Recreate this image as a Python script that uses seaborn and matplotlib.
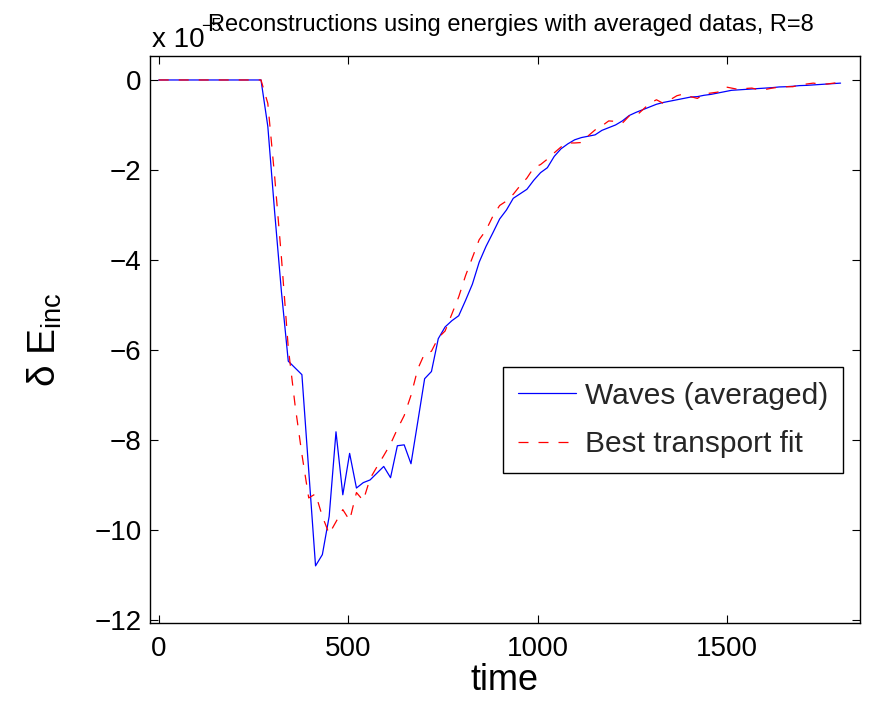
import numpy as np
import pandas as pd
import matplotlib
matplotlib.use("Agg")
import matplotlib.pyplot as plt
import seaborn as sns

# ---------------- data (values in units of 1e-5) ----------------
time = list(range(0, 1801, 18))

waves = [0, 0, 0, 0, 0, 0, 0, 0, 0, 0, 0, 0, 0, 0, 0, 0,
         -1.03, -2.93, -4.71, -6.25, -6.40, -6.55, -8.68, -10.80, -10.55, -9.70,
         -7.82, -9.22, -8.30, -9.07, -8.95, -8.89, -8.74, -8.59, -8.84, -8.13,
         -8.11, -8.53, -7.59, -6.64, -6.48, -5.75, -5.49, -5.35, -5.24, -4.90,
         -4.54, -4.05, -3.70, -3.40, -3.09, -2.89, -2.63, -2.53, -2.43, -2.23,
         -2.06, -1.95, -1.70, -1.53, -1.42, -1.33, -1.28, -1.25, -1.22, -1.12,
         -1.06, -1.00, -0.91, -0.79, -0.72, -0.66, -0.60, -0.54, -0.50, -0.47,
         -0.44, -0.41, -0.38, -0.37, -0.34, -0.32, -0.29, -0.26, -0.23, -0.22,
         -0.21, -0.20, -0.19, -0.18, -0.17, -0.155, -0.15, -0.14, -0.125, -0.12,
         -0.11, -0.10, -0.09, -0.08, -0.07]

transport = [0, 0, 0, 0, 0, 0, 0, 0, 0, 0, 0, 0, 0, 0, 0, 0,
             -0.52, -2.14, -3.95, -5.95, -7.23, -8.32, -9.29, -9.20, -9.70, -10.09,
             -9.82, -9.55, -9.79, -9.17, -9.35, -8.86, -8.60, -8.35, -8.09, -7.76,
             -7.46, -7.01, -6.42, -6.08, -6.03, -5.73, -5.58, -5.20, -4.82, -4.35,
             -3.95, -3.55, -3.34, -3.03, -2.79, -2.69, -2.54, -2.35, -2.18, -1.95,
             -1.88, -1.76, -1.62, -1.49, -1.40, -1.40, -1.39, -1.24, -1.11, -1.02,
             -0.91, -0.92, -0.96, -0.80, -0.80, -0.66, -0.52, -0.44, -0.52, -0.44,
             -0.35, -0.31, -0.37, -0.41, -0.31, -0.29, -0.27, -0.15, -0.18, -0.21,
             -0.19, -0.18, -0.22, -0.21, -0.18, -0.16, -0.15, -0.15, -0.11, -0.09,
             -0.07, -0.09, -0.09, -0.07, -0.05]

series_names = ["Waves (averaged)", "Best transport fit"]
x_ticks = [0, 500, 1000, 1500]
y_ticks = [0, -2, -4, -6, -8, -10, -12]
title_text = "Reconstructions using energies with averaged datas, R=8"
x_label = "time"
y_label = r"δ E$_{\mathrm{inc}}$"
scale_text = "x 10"
scale_exp = "\u22125"

# ---------------- style ----------------
sns.set_theme(style="white")
plt.rcParams["font.family"] = ["Liberation Sans", "DejaVu Sans"]
plt.rcParams["mathtext.fontset"] = "custom"
plt.rcParams["mathtext.rm"] = "Liberation Sans"
plt.rcParams["mathtext.it"] = "Liberation Sans:italic"
plt.rcParams["axes.unicode_minus"] = True

W, H = 874, 701
fig = plt.figure(figsize=(W / 100, H / 100), dpi=100)
ax = fig.add_axes([150 / W, 1 - 623 / H, (859.5 - 150) / W, (623 - 55.5) / H])

df = pd.DataFrame({"time": time, "waves": waves, "transport": transport})

sns.lineplot(data=df, x="time", y="waves", ax=ax, color=(0, 0, 1),
             linewidth=0.9, label=series_names[0])
sns.lineplot(data=df, x="time", y="transport", ax=ax, color=(1, 0, 0),
             linewidth=0.9, linestyle="--", label=series_names[1])
ax.lines[-1].set_dashes([8, 8])

ax.set_xlim(-23, 1850)
ax.set_ylim(-12.07, 0.544)
ax.set_xticks(x_ticks)
ax.set_yticks(y_ticks)
ax.set_xticklabels([str(v) for v in x_ticks])
ax.set_yticklabels([str(v).replace("-", "\u2212") for v in y_ticks])

for s in ax.spines.values():
    s.set_color("black")
    s.set_linewidth(1.0)
    s.set_visible(True)

ax.tick_params(axis="both", which="major", direction="in", length=6, width=0.8,
               colors="black", labelsize=20, top=True, right=True,
               bottom=True, left=True)
ax.tick_params(axis="x", pad=9)
ax.tick_params(axis="y", pad=6)

ax.set_xlabel(x_label, fontsize=26, labelpad=1, color="black")
ax.set_ylabel(y_label, fontsize=28, labelpad=22, color="black")
ax.grid(False)

leg = ax.legend(loc="upper left", bbox_to_anchor=(0.498, 0.4516), borderaxespad=0,
                fontsize=21.5, frameon=True, fancybox=False, edgecolor="black",
                handlelength=1.95, handletextpad=0.27, borderpad=0.5,
                labelspacing=0.68)
leg.get_frame().set_linewidth(1.0)
leg.get_frame().set_alpha(1)

fig.text(511 / W, 1 - 31 / H, title_text, fontsize=17, ha="center",
         va="baseline", color="black")
fig.text(152 / W, 1 - 46.7 / H, scale_text, fontsize=20, ha="left",
         va="baseline", color="black")
fig.text(201 / W, 1 - 31 / H, scale_exp, fontsize=13, ha="left",
         va="baseline", color="black")

fig.savefig("out.png", dpi=100, facecolor="white")
